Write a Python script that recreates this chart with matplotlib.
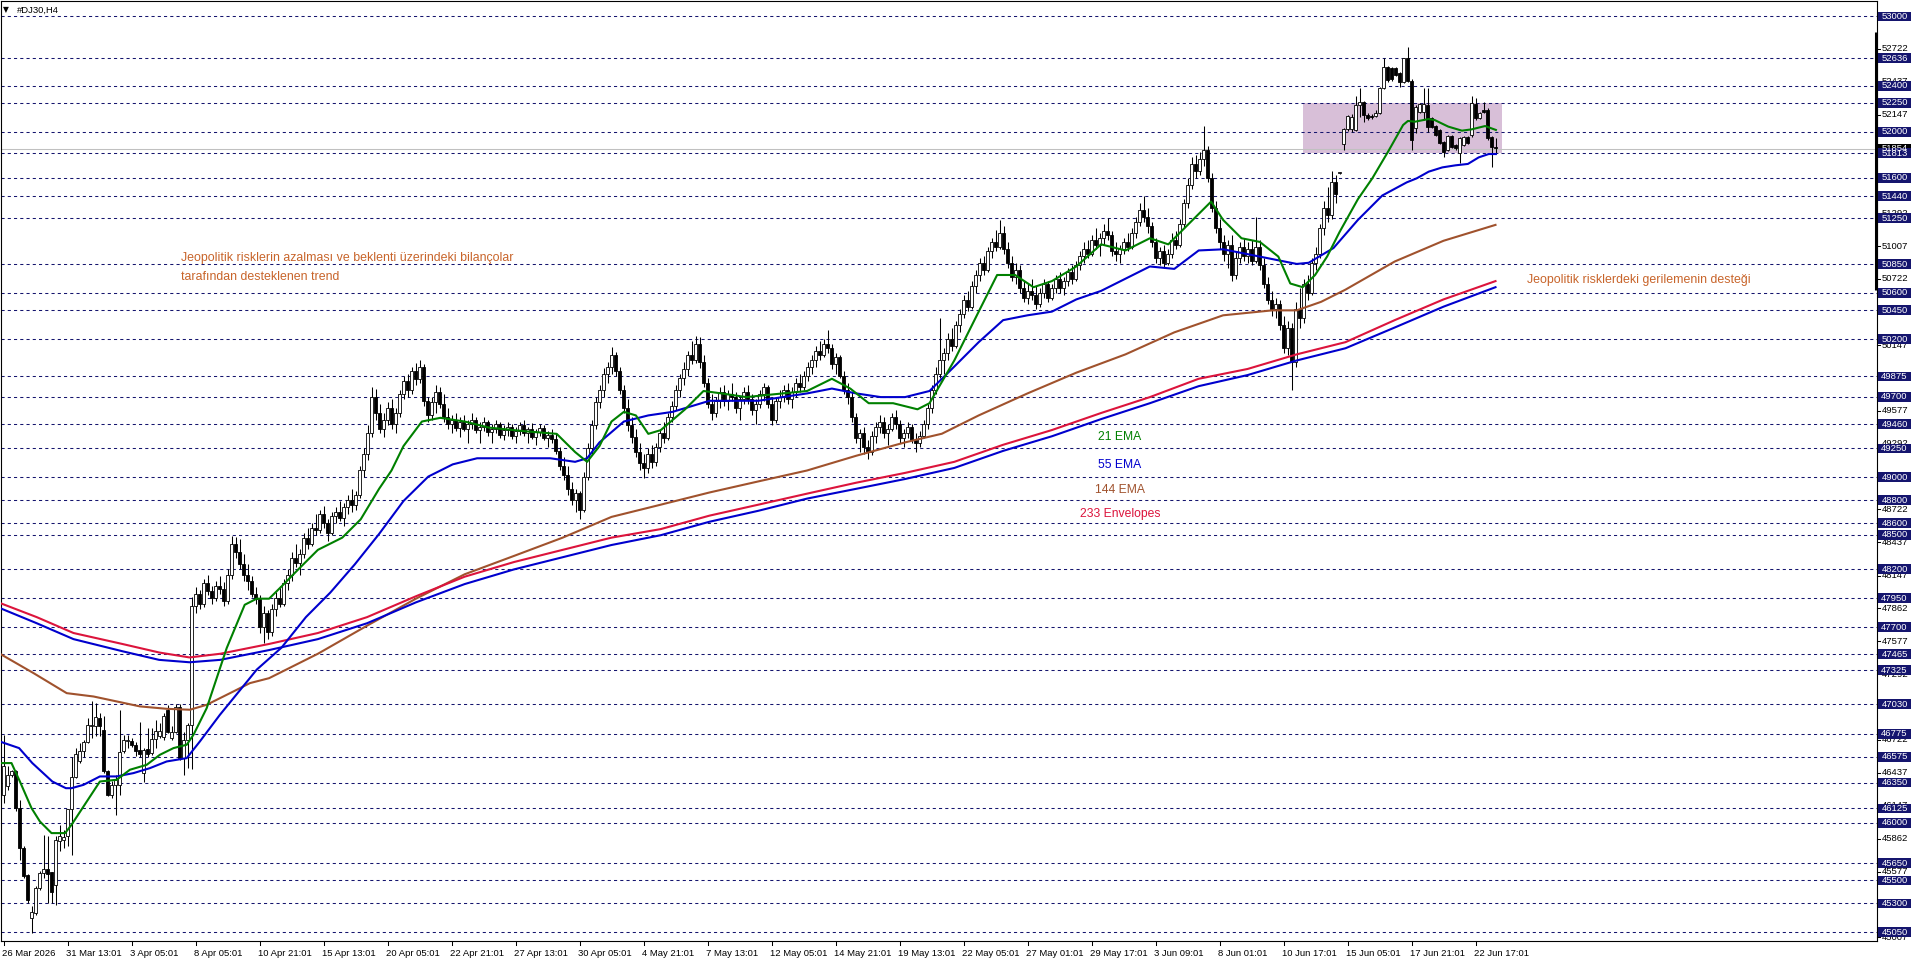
import matplotlib

matplotlib.use("Agg")
import matplotlib.pyplot as plt
from matplotlib.patches import Rectangle

plt.rcParams["font.family"] = ["Liberation Sans", "DejaVu Sans"]

# ---- H4 candles, bar 0 = 26 Mar 2026 -------------------------------------
opens = [
    46244, 46316, 46417, 46446, 46128, 45786, 45549, 45173, 45216, 45433,
    45569, 45598, 45572, 45462, 45844, 45850, 45882, 46119, 46394, 46533,
    46626, 46701, 46837, 46837, 46909, 46808, 46446, 46244, 46330, 46330,
    46620, 46712, 46712, 46678, 46634, 46432, 46643, 46605, 46727, 46750,
    46741, 46982, 46736, 46793, 47002, 46562, 46721, 46851, 47880, 47990,
    47900, 48080, 48010, 47950, 48060, 48030, 47930, 48150, 48420, 48350,
    48250, 48150, 48100, 47990, 47940, 47700, 47820, 47660, 47860, 47950,
    47900, 48080, 48150, 48300, 48260, 48330, 48470, 48420, 48560, 48540,
    48680, 48600, 48520, 48660, 48700, 48650, 48740, 48800, 48760, 48850,
    49060, 49200, 49380, 49700, 49560, 49420, 49500, 49600, 49460, 49560,
    49720, 49840, 49760, 49920, 49850, 49960, 49660, 49540, 49650, 49740,
    49640, 49520, 49460, 49500, 49430, 49480, 49420, 49460, 49500, 49410,
    49440, 49480, 49390, 49420, 49460, 49370, 49410, 49440, 49360, 49400,
    49450, 49380, 49420, 49350, 49390, 49430, 49340, 49370, 49330, 49230,
    49100, 49020, 48900, 48800, 48860, 48720, 49000, 49250, 49450, 49650,
    49760, 49900, 49960, 50060, 49920, 49760, 49600, 49450, 49350, 49220,
    49120, 49080, 49200, 49130, 49260, 49380, 49340, 49520, 49620, 49760,
    49860, 49940, 50060, 50020, 50160, 50000, 49820, 49640, 49560, 49660,
    49740, 49660, 49720, 49700, 49600, 49680, 49740, 49680, 49580, 49640,
    49720, 49780, 49640, 49500, 49660, 49700, 49760, 49680, 49740, 49820,
    49780, 49880, 49960, 50020, 50100, 50060, 50160, 50120, 49980, 50040,
    49880, 49760, 49700, 49520, 49340, 49380, 49260, 49220, 49360, 49440,
    49480, 49380, 49420, 49520, 49460, 49340, 49380, 49440, 49320, 49300,
    49360, 49460, 49600, 49760, 49900, 50020, 50080, 50200, 50140, 50320,
    50420, 50540, 50480, 50660, 50760, 50860, 50800, 50960, 51040, 51000,
    51120, 50980, 50860, 50740, 50800, 50640, 50560, 50620, 50580, 50500,
    50600, 50680, 50560, 50640, 50720, 50640, 50700, 50780, 50720, 50840,
    50920, 50980, 50940, 51060, 51020, 51080, 51140, 51100, 50960, 50940,
    50980, 51040, 51000, 51120, 51220, 51320, 51260, 51180, 51040, 50900,
    50960, 50860, 50940, 51060, 51020, 51200, 51380, 51540, 51720, 51660,
    51760, 51840, 51600, 51340, 51160, 51040, 50940, 51020, 50760, 50900,
    51000, 50920, 50980, 50880, 51000, 50840, 50680, 50540, 50460, 50500,
    50320, 50120, 50300, 50000, 50460, 50380, 50680, 50600, 50860, 50940,
    51160, 51340, 51280, 51560, 51640, 51893, 52020, 52025, 52015, 52232,
    52261, 52145, 52136, 52136, 52159, 52376, 52565, 52550, 52550, 52507,
    52434, 52637, 52443, 52029, 52174, 52174, 52232, 52116, 52049, 52015,
    51913, 51841, 51963, 51884, 51812, 51884, 51957, 51971, 52237, 52116,
    52188, 52188, 51957, 51870,
]
highs = [
    46759, 46490, 46461, 46461, 46200, 45800, 45560, 45274, 45448, 45584,
    45896, 45882, 45572, 45882, 45983, 45940, 46119, 46576, 46649, 46692,
    46721, 46909, 47054, 47039, 46953, 46924, 46460, 46365, 46417, 46982,
    46759, 46759, 46740, 46700, 46875, 46649, 46822, 46822, 46895, 46866,
    46953, 47025, 46837, 47031, 47031, 46793, 46866, 47960, 48050, 48020,
    48120, 48150, 48060, 48100, 48140, 48090, 48200, 48490, 48480, 48460,
    48330, 48250, 48140, 48050, 47980, 47880, 47850, 47900, 48000, 48060,
    48120, 48200, 48350, 48420, 48380, 48520, 48560, 48600, 48680, 48720,
    48750, 48640, 48700, 48740, 48790, 48780, 48850, 48900, 48880, 49100,
    49250, 49450, 49780, 49770, 49640, 49560, 49650, 49680, 49600, 49760,
    49880, 49900, 49960, 49990, 50020, 49980, 49700, 49700, 49800, 49780,
    49720, 49600, 49540, 49560, 49520, 49540, 49500, 49560, 49520, 49480,
    49520, 49500, 49460, 49500, 49480, 49450, 49480, 49460, 49440, 49480,
    49500, 49440, 49470, 49420, 49460, 49450, 49400, 49420, 49380, 49260,
    49180, 49100, 48960, 48900, 48880, 49050, 49300, 49500, 49700, 49800,
    49950, 50000, 50130, 50090, 49960, 49800, 49680, 49520, 49420, 49300,
    49200, 49250, 49280, 49300, 49420, 49480, 49560, 49660, 49800, 49900,
    50000, 50100, 50180, 50230, 50220, 50060, 49860, 49720, 49700, 49780,
    49800, 49760, 49820, 49740, 49700, 49780, 49800, 49720, 49680, 49760,
    49820, 49800, 49700, 49700, 49760, 49800, 49820, 49780, 49860, 49900,
    49920, 50000, 50060, 50140, 50180, 50200, 50280, 50160, 50080, 50060,
    49920, 49820, 49740, 49560, 49420, 49440, 49320, 49400, 49480, 49540,
    49520, 49460, 49560, 49580, 49500, 49420, 49480, 49460, 49380, 49400,
    49500, 49640, 49800, 49960, 50380, 50120, 50250, 50300, 50360, 50460,
    50580, 50620, 50700, 50800, 50900, 50920, 51000, 51080, 51150, 51230,
    51180, 51040, 50920, 50860, 50840, 50700, 50680, 50720, 50660, 50640,
    50720, 50700, 50680, 50760, 50780, 50740, 50820, 50840, 50880, 50960,
    51040, 51060, 51100, 51160, 51120, 51200, 51250, 51140, 51040, 51020,
    51080, 51120, 51160, 51260, 51380, 51440, 51340, 51220, 51080, 51000,
    51020, 50980, 51120, 51140, 51240, 51420, 51600, 51780, 51800, 51820,
    52050, 51880, 51640, 51400, 51240, 51100, 51060, 51100, 50960, 51040,
    51080, 51040, 51060, 51260, 51060, 50900, 50740, 50620, 50560, 50540,
    50400, 50360, 50340, 50520, 50640, 50720, 50760, 50900, 51000, 51200,
    51400, 51520, 51660, 51620, 51650, 52029, 52145, 52150, 52310, 52376,
    52270, 52160, 52150, 52188, 52391, 52637, 52570, 52565, 52558, 52521,
    52640, 52738, 52460, 52230, 52250, 52376, 52376, 52130, 52060, 52025,
    51920, 51970, 51970, 51890, 51957, 51965, 51965, 52310, 52290, 52170,
    52261, 52203, 51960, 51942,
]
lows = [
    46171, 46287, 46400, 46099, 45679, 45520, 45303, 45048, 45202, 45419,
    45520, 45303, 45303, 45289, 45752, 45781, 45795, 45723, 46390, 46519,
    46576, 46692, 46736, 46750, 46750, 46432, 46229, 46215, 46070, 46244,
    46605, 46649, 46660, 46580, 46576, 46351, 46576, 46591, 46649, 46736,
    46721, 46779, 46721, 46779, 46548, 46417, 46475, 46469, 47820, 47860,
    47870, 47980, 47900, 47930, 47990, 47880, 47900, 48120, 48300, 48200,
    48100, 48020, 47960, 47900, 47650, 47560, 47600, 47620, 47800, 47870,
    47880, 48020, 48100, 48220, 48150, 48300, 48380, 48400, 48500, 48520,
    48560, 48450, 48500, 48600, 48620, 48580, 48680, 48700, 48720, 48820,
    49000, 49150, 49350, 49500, 49380, 49350, 49450, 49420, 49380, 49520,
    49680, 49700, 49720, 49800, 49820, 49620, 49480, 49500, 49560, 49600,
    49480, 49420, 49380, 49400, 49350, 49400, 49300, 49420, 49380, 49300,
    49400, 49360, 49300, 49380, 49340, 49320, 49360, 49330, 49300, 49370,
    49360, 49300, 49330, 49280, 49360, 49320, 49260, 49300, 49200, 49060,
    48980, 48850, 48760, 48700, 48640, 48700, 48980, 49200, 49420, 49600,
    49700, 49820, 49900, 49880, 49720, 49560, 49400, 49300, 49180, 49060,
    48990, 49040, 49080, 49100, 49220, 49300, 49320, 49480, 49580, 49700,
    49800, 49880, 49980, 49990, 49950, 49780, 49600, 49500, 49520, 49600,
    49620, 49580, 49660, 49560, 49500, 49640, 49640, 49540, 49460, 49600,
    49660, 49600, 49450, 49470, 49600, 49650, 49640, 49600, 49700, 49740,
    49760, 49840, 49900, 49960, 50020, 50040, 50080, 49940, 49900, 49860,
    49720, 49640, 49480, 49300, 49220, 49200, 49160, 49190, 49300, 49380,
    49340, 49280, 49400, 49420, 49300, 49260, 49340, 49300, 49220, 49260,
    49340, 49420, 49560, 49720, 49860, 49900, 50020, 50100, 50120, 50260,
    50380, 50440, 50460, 50600, 50700, 50760, 50780, 50900, 50960, 50980,
    50940, 50820, 50700, 50680, 50600, 50520, 50500, 50540, 50460, 50480,
    50560, 50520, 50540, 50600, 50600, 50580, 50660, 50680, 50700, 50800,
    50860, 50900, 50920, 50980, 50920, 51020, 51060, 50920, 50880, 50860,
    50940, 50960, 50980, 51080, 51180, 51220, 51120, 51000, 50860, 50840,
    50820, 50840, 50900, 50980, 51000, 51160, 51340, 51500, 51600, 51620,
    51700, 51560, 51300, 51120, 50980, 50880, 50820, 50700, 50720, 50860,
    50880, 50860, 50840, 50860, 50800, 50640, 50500, 50400, 50380, 50280,
    50080, 50060, 49760, 49960, 50300, 50340, 50540, 50580, 50800, 50900,
    51100, 51220, 51240, 51380, 51635, 51841, 52010, 52000, 52009, 52130,
    52087, 52101, 52110, 52130, 52154, 52368, 52434, 52443, 52483, 52391,
    52420, 52430, 51841, 51990, 52160, 52101, 51999, 52030, 51960, 51890,
    51783, 51830, 51860, 51845, 51725, 51875, 51890, 51957, 52101, 52110,
    52159, 51928, 51696, 51812,
]
closes = [
    46490, 46417, 46446, 46128, 45781, 45535, 45332, 45222, 45433, 45569,
    45598, 45558, 45404, 45847, 45882, 45880, 46119, 46394, 46597, 46626,
    46701, 46846, 46851, 46915, 46837, 46446, 46244, 46330, 46374, 46614,
    46721, 46715, 46678, 46620, 46597, 46634, 46597, 46727, 46799, 46799,
    46924, 46793, 46793, 47002, 46562, 46721, 46851, 47880, 47990, 47900,
    48080, 48010, 47950, 48060, 48030, 47930, 48150, 48420, 48350, 48250,
    48150, 48100, 47990, 47940, 47700, 47820, 47660, 47860, 47950, 47900,
    48080, 48150, 48300, 48260, 48330, 48470, 48420, 48560, 48540, 48680,
    48600, 48520, 48660, 48700, 48650, 48740, 48800, 48760, 48850, 49060,
    49200, 49380, 49700, 49560, 49420, 49500, 49600, 49460, 49560, 49720,
    49840, 49760, 49920, 49850, 49960, 49660, 49540, 49650, 49740, 49640,
    49520, 49460, 49500, 49430, 49480, 49420, 49460, 49500, 49410, 49440,
    49480, 49390, 49420, 49460, 49370, 49410, 49440, 49360, 49400, 49450,
    49380, 49420, 49350, 49390, 49430, 49340, 49370, 49330, 49230, 49100,
    49020, 48900, 48800, 48860, 48720, 49000, 49250, 49450, 49650, 49760,
    49900, 49960, 50060, 49920, 49760, 49600, 49450, 49350, 49220, 49120,
    49080, 49200, 49130, 49260, 49380, 49340, 49520, 49620, 49760, 49860,
    49940, 50060, 50020, 50160, 50000, 49820, 49640, 49560, 49660, 49740,
    49660, 49720, 49700, 49600, 49680, 49740, 49680, 49580, 49640, 49720,
    49780, 49640, 49500, 49660, 49700, 49760, 49680, 49740, 49820, 49780,
    49880, 49960, 50020, 50100, 50060, 50160, 50120, 49980, 50040, 49880,
    49760, 49700, 49520, 49340, 49380, 49260, 49220, 49360, 49440, 49480,
    49380, 49420, 49520, 49460, 49340, 49380, 49440, 49320, 49300, 49360,
    49460, 49600, 49760, 49900, 50020, 50080, 50200, 50140, 50320, 50420,
    50540, 50480, 50660, 50760, 50860, 50800, 50960, 51040, 51000, 51120,
    50980, 50860, 50740, 50800, 50640, 50560, 50620, 50580, 50500, 50600,
    50680, 50560, 50640, 50720, 50640, 50700, 50780, 50720, 50840, 50920,
    50980, 50940, 51060, 51020, 51080, 51140, 51100, 50960, 50940, 50980,
    51040, 51000, 51120, 51220, 51320, 51260, 51180, 51040, 50900, 50960,
    50860, 50940, 51060, 51020, 51200, 51380, 51540, 51720, 51660, 51760,
    51840, 51600, 51340, 51160, 51040, 50940, 51020, 50760, 50900, 51000,
    50920, 50980, 50880, 51000, 50840, 50680, 50540, 50460, 50500, 50320,
    50120, 50300, 50000, 50460, 50380, 50680, 50600, 50860, 50940, 51160,
    51340, 51280, 51560, 51460, 51642, 52020, 52136, 52130, 52232, 52261,
    52145, 52122, 52125, 52159, 52376, 52565, 52449, 52455, 52492, 52434,
    52637, 52443, 51928, 52217, 52240, 52240, 52044, 52044, 51971, 51899,
    51827, 51963, 51870, 51855, 51942, 51957, 51899, 52246, 52116, 52165,
    52174, 51942, 51864, 51855,
]

# ---- indicator lines as (bar, price) -------------------------------------
ema21_bar = [-1, 2, 4.1, 7, 9.1, 12, 15.4, 17, 20, 24.1, 28.3, 31.6, 35.8, 39.1,
             42.5, 45.8, 47.5, 50.8, 55.8, 60.3, 63.3, 66.4, 69.5, 74, 78.6,
             84.7, 89.3, 93.9, 97, 100, 104.6, 109.2, 115.3, 121.4, 130.6,
             138.3, 142.9, 145.9, 149, 152, 155.1, 158.1, 161.2, 164.3, 170.4,
             175, 179.5, 185.7, 194.8, 200.9, 207.1, 211.7, 216.3, 222.4,
             228.5, 231.5, 237.7, 243.8, 248.4, 252.9, 257.5, 262.1, 268.2,
             274.4, 280.5, 286.6, 291.2, 297.3, 301.9, 304.9, 309.5, 314.1,
             318.7, 321.7, 324.8, 327.9, 330.9, 334, 338.6, 342.2, 346.2,
             349.9, 351.1, 352.9, 356.3, 357.8, 361.2, 364.6, 367, 370.4, 373.1]
ema21_val = [46519, 46519, 46359, 46128, 46012, 45911, 45911, 45983, 46142,
             46359, 46374, 46461, 46504, 46591, 46649, 46678, 46765, 46996,
             47517, 47893, 47946, 47946, 48052, 48211, 48370, 48476, 48635,
             48900, 49059, 49271, 49484, 49516, 49484, 49431, 49399, 49377,
             49219, 49134, 49271, 49484, 49568, 49537, 49377, 49409, 49590,
             49749, 49728, 49696, 49728, 49749, 49855, 49770, 49643, 49643,
             49590, 49643, 50014, 50438, 50756, 50756, 50650, 50703, 50830,
             51022, 50969, 51075, 51022, 51234, 51393, 51234, 51075, 51043,
             50916, 50682, 50650, 50756, 50916, 51128, 51414, 51595, 51830,
             52058, 52093, 52087, 52110, 52101, 52044, 52009, 52020, 52049,
             52015]

ema55_bar = [-1, 3.9, 7.2, 12.2, 15.6, 17, 20, 24.1, 28.3, 32.5, 36.6, 40.8,
             45.8, 49.1, 54.1, 61.6, 63.3, 69.5, 75.6, 81.7, 87.8, 93.9, 100,
             106.2, 112.3, 118.4, 127.6, 136.7, 142.9, 145.9, 149, 155.1,
             161.2, 167.3, 176.5, 188.7, 200.9, 207.1, 213.2, 219.3, 225.4,
             231.5, 237.7, 243.8, 249.9, 256, 262.1, 268.2, 274.4, 280.5,
             286.6, 292.7, 298.8, 304.9, 311, 317.2, 323.3, 326.3, 332.5,
             338.6, 344.7, 350.8, 353.3, 356.3, 359.7, 363, 366.1, 368.8,
             371.3, 373.1]
ema55_val = [46707, 46649, 46519, 46359, 46301, 46301, 46330, 46403, 46403,
             46432, 46475, 46533, 46562, 46707, 46938, 47257, 47330, 47521,
             47786, 47999, 48243, 48508, 48794, 49006, 49112, 49165, 49165,
             49165, 49134, 49165, 49303, 49484, 49537, 49568, 49664, 49664,
             49728, 49770, 49728, 49696, 49696, 49749, 49961, 50173, 50364,
             50406, 50438, 50544, 50618, 50724, 50830, 50809, 50969, 50979,
             50937, 50894, 50852, 50862, 50990, 51234, 51446, 51560, 51595,
             51653, 51690, 51708, 51720, 51777, 51806, 51806]

ema144_bar = [-1, 7.5, 15.8, 22.5, 28.3, 34.1, 40.8, 46.6, 50.8, 57.5, 61.6,
              66.4, 78.6, 90.9, 103.1, 115.3, 127.6, 139.8, 152, 164.3, 176.5,
              188.7, 200.9, 213.2, 225.4, 234.6, 243.8, 256, 268.2, 280.5,
              292.7, 304.9, 317.2, 323.3, 329.4, 335.5, 347.8, 360, 373]
ema144_val = [47470, 47300, 47126, 47097, 47054, 47011, 46990, 46982, 47025,
              47141, 47213, 47256, 47468, 47712, 47946, 48158, 48317, 48476,
              48656, 48762, 48868, 48964, 49059, 49187, 49303, 49378, 49537,
              49728, 49908, 50067, 50258, 50406, 50449, 50449, 50523, 50629,
              50873, 51053, 51191]

env_bar = [-1, 8.3, 17.5, 29.7, 38.9, 46.5, 54.2, 66.4, 78.6, 90.9, 103.1,
           115.3, 127.6, 139.8, 152, 164.3, 176.5, 188.7, 200.9, 213.2, 225.4,
           237.7, 249.9, 262.1, 274.4, 286.6, 298.8, 311, 323.3, 335.5, 347.8,
           360, 373]
env_upper = [47910, 47786, 47648, 47553, 47479, 47436, 47468, 47553, 47648,
             47786, 47967, 48137, 48264, 48370, 48476, 48550, 48667, 48762,
             48858, 48953, 49038, 49134, 49282, 49410, 49558, 49696, 49855,
             49940, 50067, 50173, 50364, 50544, 50703]
env_lower = [47866, 47733, 47595, 47490, 47415, 47394, 47415, 47500, 47595,
             47733, 47914, 48073, 48200, 48306, 48412, 48497, 48614, 48709,
             48815, 48900, 48985, 49081, 49229, 49356, 49505, 49643, 49791,
             49887, 50014, 50120, 50300, 50481, 50650]

# ---- horizontal levels, scale ticks, time labels ------------------------
levels = [53000, 52636, 52400, 52250, 52000, 51813, 51600, 51440, 51250,
          50850, 50600, 50450, 50200, 49875, 49700, 49460, 49250, 49000,
          48800, 48600, 48500, 48200, 47950, 47700, 47465, 47325, 47030,
          46775, 46575, 46350, 46125, 46000, 45650, 45500, 45300, 45050]
# 51862 sits fully under the bid box in the original, so it is left out
scale_ticks = [52722, 52437, 52147, 51577, 51292, 51007, 50722, 50437,
               50147, 49862, 49577, 49292, 49007, 48722, 48437, 48147, 47862,
               47577, 47292, 47007, 46722, 46437, 46147, 45862, 45577, 45292,
               45007]
bid = 51854
zone_top, zone_bottom = 52250, 51813
time_labels = ["26 Mar 2026", "31 Mar 13:01", "3 Apr 05:01", "8 Apr 05:01",
               "10 Apr 21:01", "15 Apr 13:01", "20 Apr 05:01", "22 Apr 21:01",
               "27 Apr 13:01", "30 Apr 05:01", "4 May 21:01", "7 May 13:01",
               "12 May 05:01", "14 May 21:01", "19 May 13:01", "22 May 05:01",
               "27 May 01:01", "29 May 17:01", "3 Jun 09:01", "8 Jun 01:01",
               "10 Jun 17:01", "15 Jun 05:01", "17 Jun 21:01", "22 Jun 17:01"]
bars_per_label = 16

W, H = 1916, 963
NAVY = "#15156e"
GREEN = "#008000"
BLUE = "#0000cd"
SIENNA = "#a0522d"
CRIMSON = "#dc143c"
NOTE = "#c8642a"

fig = plt.figure(figsize=(W / 100, H / 100), dpi=100)
ax = fig.add_axes([1 / W, 22 / H, 1876 / W, 940 / H])
ax.set_xlim(-0.625, 468.375)
ax.set_ylim(44974.4, 53134.5)
ax.set_xticks([])
ax.set_yticks([])
for sp in ax.spines.values():
    sp.set_color("black")
    sp.set_linewidth(0.8)

px = 1 / 1876  # one pixel in axes fraction (x)
py = 1 / 940   # one pixel in axes fraction (y)
ytr = ax.get_yaxis_transform()
xtr = ax.get_xaxis_transform()

# support/resistance zone
ax.add_patch(Rectangle((324.9, zone_bottom), 49.7, zone_top - zone_bottom,
                       fc="#d8bfd8", ec="none", zorder=0))

for lv in levels:
    ax.axhline(lv, color=NAVY, lw=0.75, ls=(0, (3, 3)), zorder=1)
ax.axhline(bid, color="#c0c0c0", lw=0.75, zorder=1)

# candles
n = len(closes)
ax.vlines(range(n), lows, highs, color="black", lw=0.75, zorder=3)
for i in range(n):
    o, c = opens[i], closes[i]
    ax.add_patch(Rectangle((i - 0.3, min(o, c)), 0.6, max(abs(c - o), 6),
                           fc="white" if c >= o else "black", ec="black",
                           lw=0.6, zorder=4))

# indicators
ax.plot(ema144_bar, ema144_val, color=SIENNA, lw=1.5, zorder=5)
ax.plot(env_bar, env_upper, color=CRIMSON, lw=1.5, zorder=5)
ax.plot(env_bar, env_lower, color=BLUE, lw=1.5, zorder=5)
ax.plot(ema55_bar, ema55_val, color=BLUE, lw=1.5, zorder=6)
ax.plot(ema21_bar, ema21_val, color=GREEN, lw=1.5, zorder=7)

# text notes
ax.text(44.4, 50904, "Jeopolitik risklerin azalması ve beklenti üzerindeki bilançolar",
        color=NOTE, fontsize=8.9, ha="left", va="center", zorder=8)
ax.text(44.4, 50739, "tarafından desteklenen trend",
        color=NOTE, fontsize=8.9, ha="left", va="center", zorder=8)
ax.text(380.9, 50713, "Jeopolitik risklerdeki gerilemenin desteği",
        color=NOTE, fontsize=8.9, ha="left", va="center", zorder=8)
for txt, yv, col in [("21 EMA", 49350, GREEN), ("55 EMA", 49107, BLUE),
                     ("144 EMA", 48890, SIENNA), ("233 Envelopes", 48681, CRIMSON)]:
    ax.text(279.1, yv, txt, color=col, fontsize=8.7, ha="center", va="center", zorder=8)

# right price scale
for t in scale_ticks:
    ax.plot([1, 1 + 3 * px], [t, t], transform=ytr, color="black", lw=0.75,
            clip_on=False)
    ax.text(1 + 5 * px, t, str(t), transform=ytr, fontsize=6.8, ha="left",
            va="center", clip_on=False, zorder=9)
ax.plot([1 - px, 1 - px], [50626, 52865], transform=ytr, color="black", lw=2.2,
        clip_on=False, solid_capstyle="butt")


def price_box(val, face):
    ax.add_patch(Rectangle((1 + px, val - 43), 33 * px, 86, transform=ytr,
                           fc=face, ec="none", clip_on=False, zorder=10))
    ax.text(1 + 17.5 * px, val, str(val), transform=ytr, color="white",
            fontsize=6.8, ha="center", va="center", clip_on=False, zorder=11)


price_box(bid, "black")
for lv in levels:
    price_box(lv, NAVY)

# time scale
for k, lab in enumerate(time_labels):
    xb = k * bars_per_label
    ax.plot([xb, xb], [0, -4 * py], transform=xtr, color="black", lw=0.75,
            clip_on=False)
    ax.text(xb - 0.3, -12 * py, lab, transform=xtr, fontsize=6.8, ha="left",
            va="center", clip_on=False)

fig.text(3 / W, 1 - 10 / H, "▼", fontsize=5.5, family="DejaVu Sans",
         ha="left", va="center")
fig.text(17 / W, 1 - 10 / H, "#DJ30,H4", fontsize=6.8, ha="left", va="center")

fig.savefig("out.png", dpi=100)
